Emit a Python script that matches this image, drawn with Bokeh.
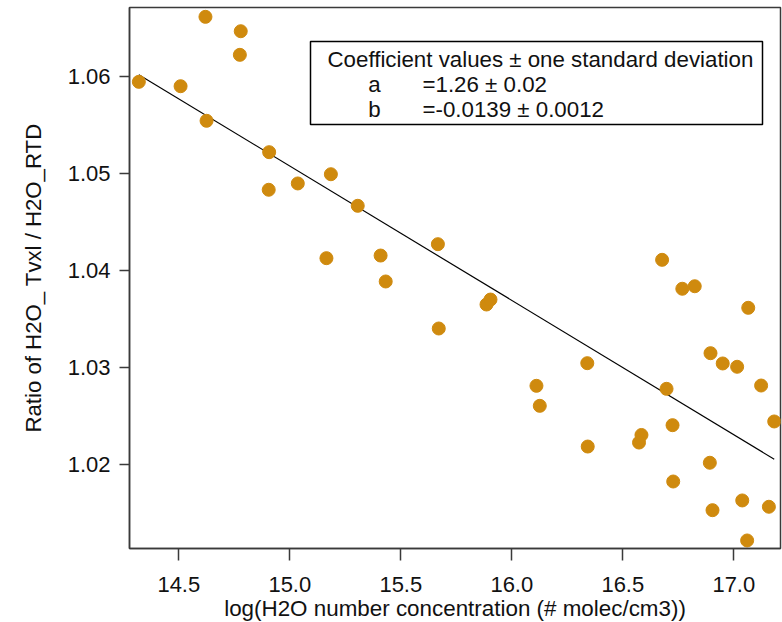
from bokeh.plotting import figure
from bokeh.models import Range1d, FixedTicker, NumeralTickFormatter, BoxAnnotation, Label, Title
from bokeh.embed import file_html
from bokeh.resources import INLINE

# ---- data ----
log_conc = [14.320, 14.620, 14.779, 14.775, 14.508, 14.625, 14.907, 14.905,
            15.036, 15.185, 15.306, 15.165, 15.409, 15.432, 15.667, 15.886,
            15.904, 16.677, 16.768, 16.824, 17.065, 15.671, 16.111, 16.126,
            16.340, 16.342, 16.584, 16.573, 16.697, 16.724, 16.727, 16.895,
            16.950, 17.015, 17.123, 17.182, 16.892, 16.904, 17.038, 17.158,
            17.060]
ratio = [1.05942, 1.06611, 1.06463, 1.06220, 1.05897, 1.05541, 1.05218, 1.04831,
         1.04896, 1.04991, 1.04666, 1.04127, 1.04154, 1.03887, 1.04271, 1.03650,
         1.03701, 1.04110, 1.03812, 1.03838, 1.03616, 1.03403, 1.02813, 1.02607,
         1.03046, 1.02188, 1.02307, 1.02229, 1.02782, 1.02408, 1.01828, 1.03149,
         1.03043, 1.03009, 1.02816, 1.02446, 1.02021, 1.01533, 1.01633, 1.01568,
         1.01221]

# linear fit y = a + b*x (unrounded coefficients)
fit_a = 1.2582
fit_b = -0.01383

x_ticks = [14.5, 15.0, 15.5, 16.0, 16.5, 17.0]
y_ticks = [1.02, 1.03, 1.04, 1.05, 1.06]

x_title = "log(H2O number concentration (# molec/cm3))"
y_title = "Ratio of H2O_ Tvxl / H2O_RTD"
legend_title = "Coefficient values \u00b1 one standard deviation"
coef_names = ["a", "b"]
coef_texts = ["=1.26 \u00b1 0.02", "=-0.0139 \u00b1 0.0012"]

FONT = "Liberation Sans"
DOT = "#CF8A0E"
AXIS = "#3a3a3a"
TXT = "#111111"

p = figure(width=782, height=622, output_backend="svg", toolbar_location=None,
           x_range=Range1d(14.2779, 17.2103), y_range=Range1d(1.011384, 1.067072),
           min_border_left=129, min_border_right=2, min_border_top=7, min_border_bottom=74)
p.grid.visible = False
p.background_fill_color = "white"
p.border_fill_color = "white"
p.outline_line_color = AXIS
p.outline_line_width = 1.5

fx = [min(log_conc), max(log_conc)]
fy = [fit_a + fit_b * v for v in fx]
p.line(fx, fy, line_color="black", line_width=1.2)
p.scatter(log_conc, ratio, size=13, fill_color=DOT, line_color=DOT)

for ax in (p.xaxis[0], p.yaxis[0]):
    ax.axis_line_color = AXIS
    ax.axis_line_width = 1.5
    ax.major_tick_line_color = AXIS
    ax.major_tick_line_width = 1.5
    ax.major_tick_in = 0
    ax.minor_tick_line_color = None
    ax.major_label_text_font = FONT
    ax.major_label_text_font_size = "22px"
    ax.major_label_text_color = TXT
    ax.axis_label_text_font = FONT
    ax.axis_label_text_font_style = "normal"
    ax.axis_label_text_color = TXT

p.xaxis.ticker = FixedTicker(ticks=x_ticks)
p.xaxis.formatter = NumeralTickFormatter(format="0.0")
p.xaxis.major_tick_out = 12
p.xaxis.major_label_standoff = 16

p.yaxis.ticker = FixedTicker(ticks=y_ticks)
p.yaxis.formatter = NumeralTickFormatter(format="0.00")
p.yaxis.major_tick_out = 10
p.yaxis.major_label_standoff = 9
p.yaxis.axis_label = y_title
p.yaxis.axis_label_text_font_size = "22.2px"
p.yaxis.axis_label_standoff = 19

# x-axis title as a title panel below the axis (tight spacing)
p.add_layout(Title(text=x_title, align="center", vertical_align="bottom", standoff=-1,
                   text_font=FONT, text_font_size="22.4px", text_font_style="normal",
                   text_color=TXT), "below")

# coefficient box (screen units relative to the plot frame, y upward)
p.add_layout(BoxAnnotation(left=181, right=633, bottom=424, top=507,
                           left_units="screen", right_units="screen",
                           bottom_units="screen", top_units="screen",
                           fill_color="white", fill_alpha=1.0,
                           line_color="black", line_alpha=1.0, line_width=1.5))
p.add_layout(Label(x=198, y=489, x_units="screen", y_units="screen", text=legend_title,
                   text_font=FONT, text_font_size="22.3px", text_color=TXT,
                   text_baseline="alphabetic", text_align="left"))
for i, (nm, tx) in enumerate(zip(coef_names, coef_texts)):
    yy = 464 - 25 * i
    p.add_layout(Label(x=245, y=yy, x_units="screen", y_units="screen", text=nm,
                       text_font=FONT, text_font_size="22.3px", text_color=TXT,
                       text_baseline="alphabetic", text_align="center"))
    p.add_layout(Label(x=293, y=yy, x_units="screen", y_units="screen", text=tx,
                       text_font=FONT, text_font_size="22.3px", text_color=TXT,
                       text_baseline="alphabetic", text_align="left"))

open("out.html", "w").write(file_html(p, INLINE))
